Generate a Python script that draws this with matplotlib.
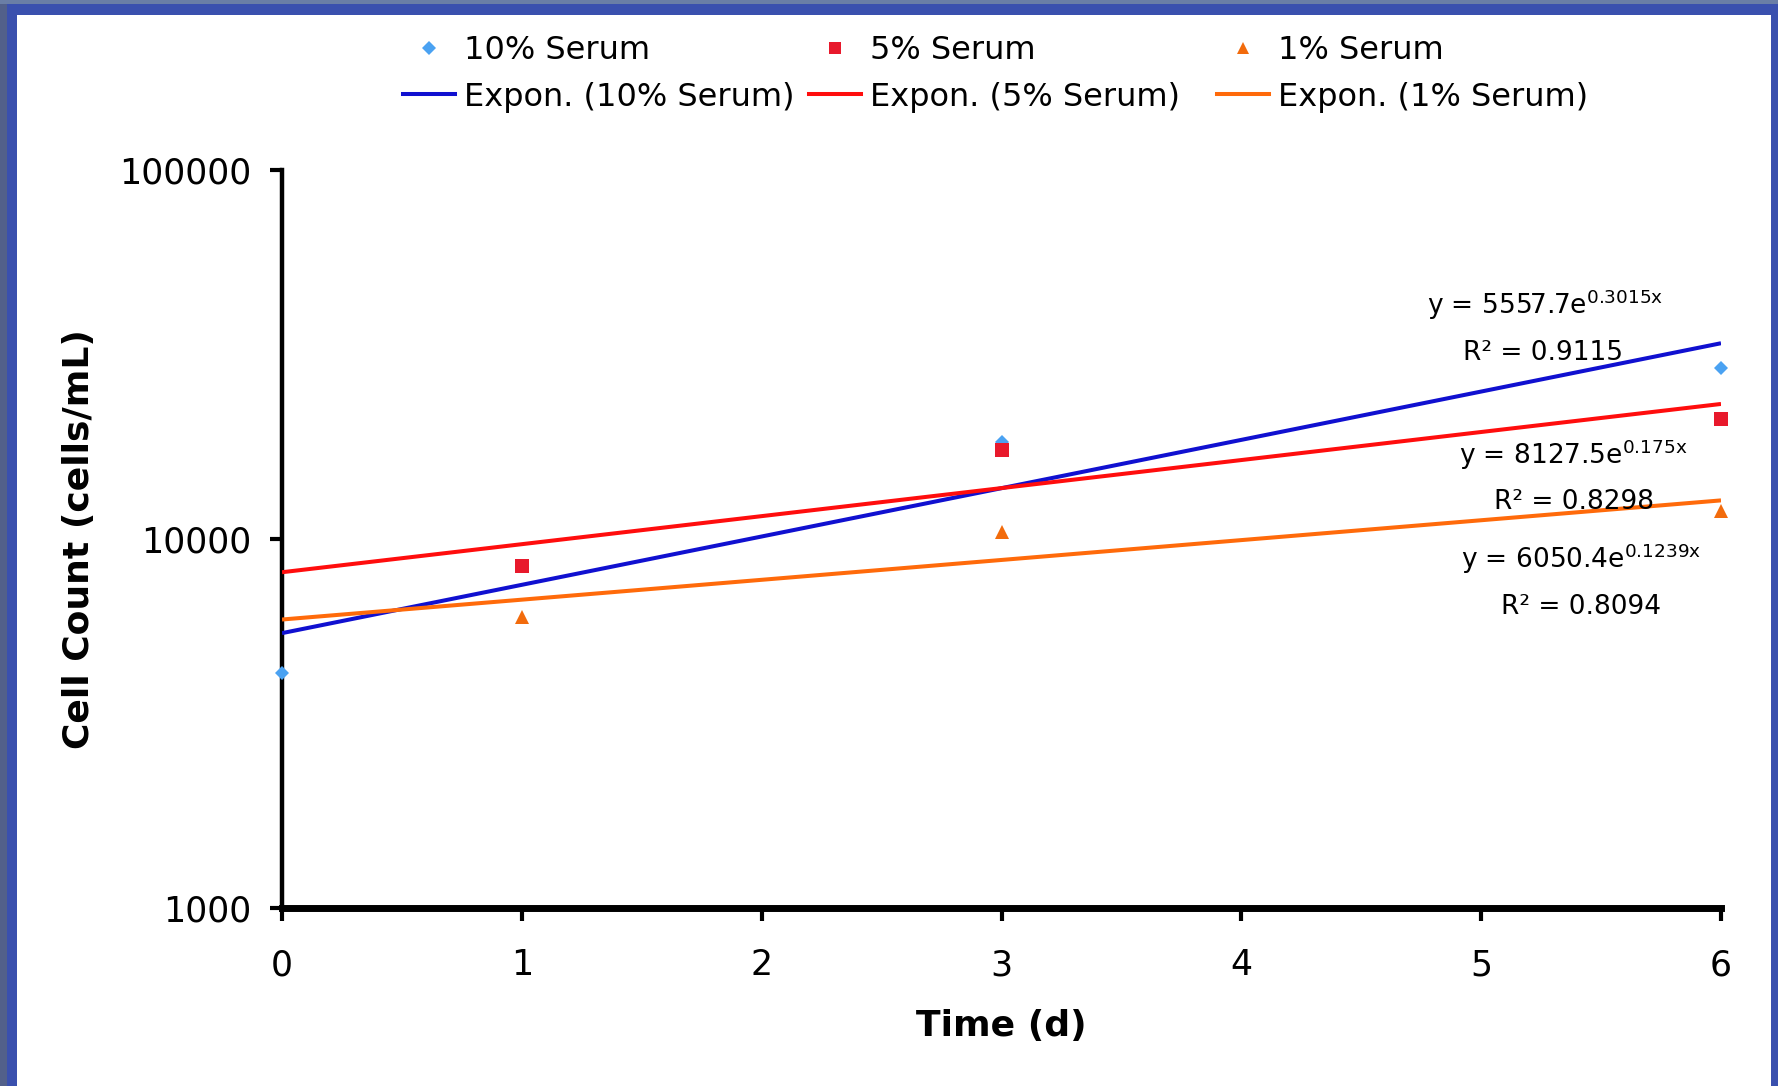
import numpy as np
import matplotlib.pyplot as plt
from matplotlib.patches import Rectangle
from matplotlib.lines import Line2D
from matplotlib.ticker import FixedLocator, NullLocator

# measured cell counts
days_10 = [0, 3, 6]
cells_10 = [4330, 18300, 29000]
days_5 = [1, 3, 6]
cells_5 = [8470, 17400, 21200]
days_1 = [1, 3, 6]
cells_1 = [6150, 10450, 11900]

# Excel exponential trendlines: y = a * exp(b * x)
fit_a = [5557.7, 8127.5, 6050.4]
fit_b = [0.3015, 0.175, 0.1239]
fit_r2 = ["0.9115", "0.8298", "0.8094"]
fit_x = [0, 6]

labels = ["10% Serum", "5% Serum", "1% Serum"]
x_ticks = [0, 1, 2, 3, 4, 5, 6]
y_ticks = [1000, 10000, 100000]

marker_colors = ["#4aa2f2", "#e8192c", "#f26b0c"]
line_colors = ["#1010d0", "#ff0d0d", "#ff6a0a"]
markers = ["D", "s", "^"]
marker_sizes = [7.5, 10, 10]

W, H = 1778, 1086
fig = plt.figure(figsize=(W / 100, H / 100), dpi=100)
fig.set_facecolor("#3a50ae")

# white panel inside the blue frame
fig.add_artist(Rectangle((0, 0), 7 / W, 1, transform=fig.transFigure,
                         facecolor="#52608a", edgecolor="none", zorder=-3))
fig.add_artist(Rectangle((0, 1 - 4 / H), 1, 4 / H, transform=fig.transFigure,
                         facecolor="#6a7ea6", edgecolor="none", zorder=-3))
fig.add_artist(Rectangle((17 / W, 0), (1771 - 17) / W, (H - 15) / H,
                         transform=fig.transFigure, facecolor="white",
                         edgecolor="none", zorder=-2))

x0, x1 = 282, 1721
y_top, y_bot = 170, 908
ax = fig.add_axes([x0 / W, 1 - y_bot / H, (x1 - x0) / W, (y_bot - y_top) / H])
ax.set_facecolor("none")

days = [days_10, days_5, days_1]
cells = [cells_10, cells_5, cells_1]
for i in range(3):
    ax.plot(days[i], cells[i], linestyle="none", marker=markers[i],
            markersize=marker_sizes[i], color=marker_colors[i],
            markeredgewidth=0, zorder=4, clip_on=False)
    fx = np.array(fit_x, dtype=float)
    ax.plot(fx, fit_a[i] * np.exp(fit_b[i] * fx), color=line_colors[i],
            linewidth=2.9, zorder=3, solid_capstyle="butt")

ax.set_yscale("log")
ax.set_xlim(0, 6)
ax.set_ylim(1000, 100000)
ax.xaxis.set_major_locator(FixedLocator(x_ticks))
ax.yaxis.set_major_locator(FixedLocator(y_ticks))
ax.yaxis.set_minor_locator(NullLocator())
ax.set_xticklabels([str(t) for t in x_ticks])
ax.set_yticklabels([str(t) for t in y_ticks])

for s in ["top", "right"]:
    ax.spines[s].set_visible(False)
ax.spines["left"].set_linewidth(3.2)
ax.spines["bottom"].set_linewidth(5)
ax.tick_params(axis="y", direction="out", length=9, width=3, pad=13,
               labelsize=25)
ax.tick_params(axis="x", direction="out", length=9, width=3, pad=20,
               labelsize=25)

ax.set_xlabel("Time (d)", fontsize=26, fontweight="bold", va="center")
ax.xaxis.set_label_coords(0.5, -(1026 - y_bot) / (y_bot - y_top))
ax.set_ylabel("Cell Count (cells/mL)", fontsize=26, fontweight="bold",
              va="center")
ax.yaxis.set_label_coords(-(x0 - 79) / (x1 - x0), 0.5)

# trendline equations
eq_pos = [(5.266, 40700), (5.383, 15970), (5.416, 8345)]
r2_pos = [(5.258, 30650), (5.388, 12060), (5.416, 6280)]
for i in range(3):
    ax.text(eq_pos[i][0], eq_pos[i][1],
            "y = %se$^{\\mathregular{%sx}}$" % (fit_a[i], fit_b[i]),
            fontsize=19, ha="center", va="baseline", zorder=5)
    ax.text(r2_pos[i][0], r2_pos[i][1], "R² = %s" % fit_r2[i],
            fontsize=19, ha="center", va="baseline", zorder=5)

# legend: one column block per series
leg_x = [403, 809, 1217]
for i in range(3):
    h_pt = Line2D([], [], linestyle="none", marker=markers[i],
                  markersize=marker_sizes[i] * 0.9, color=marker_colors[i],
                  markeredgewidth=0)
    h_ln = Line2D([], [], color=line_colors[i], linewidth=2.9)
    fig.legend([h_pt, h_ln], [labels[i], "Expon. (%s)" % labels[i]],
               loc="center left", bbox_to_anchor=(leg_x[i] / W, 1 - 74 / H),
               frameon=False, fontsize=23, handlelength=1.63,
               handletextpad=0.28, labelspacing=0.48, borderpad=0,
               borderaxespad=0, numpoints=1)

fig.savefig("out.png", dpi=100, facecolor=fig.get_facecolor())
